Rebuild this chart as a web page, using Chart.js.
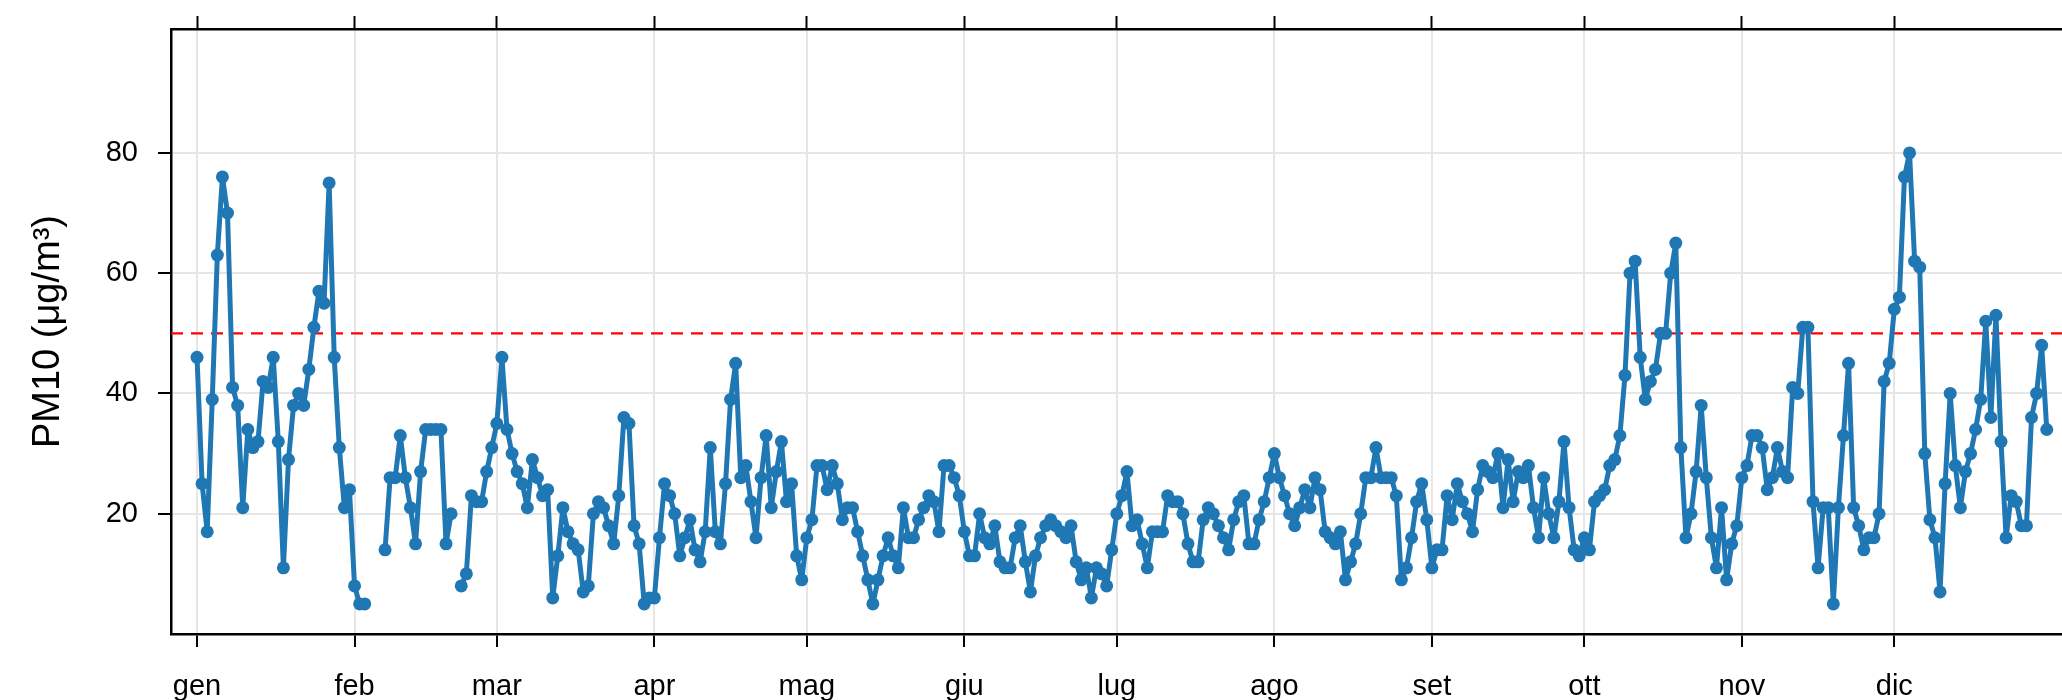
<!DOCTYPE html>
<html>
<head>
<meta charset="utf-8">
<script src="https://cdn.jsdelivr.net/npm/chart.js@4.4.1/dist/chart.umd.min.js"></script>
<style>
html,body{margin:0;padding:0;background:#fff;}
#wrap{width:2062px;height:700px;position:relative;}
</style>
</head>
<body>
<div id="wrap"><canvas id="c" width="2062" height="700"></canvas></div>
<script>
// Month labels and first day (day-of-year index) of each month
const months = ['gen','feb','mar','apr','mag','giu','lug','ago','set','ott','nov','dic'];
const monthStart = [0,31,59,90,120,151,181,212,243,273,304,334];
const yTicks = [20,40,60,80];
const LIMIT = 50;

// Daily PM10 values (µg/m³), one array per month; null = missing day
const gen = [46,25,17,39,63,76,70,41,38,21,34,31,32,42,41,46,32,11,29,38,40,38,44,51,57,55,75,46,31,21,24];
const feb = [8,5,5,null,null,null,14,26,26,33,26,21,15,27,34,34,34,34,15,20,null,8,10,23,22,22,27,31];
const mar = [35,46,34,30,27,25,21,29,26,23,24,6,13,21,17,15,14,7,8,20,22,21,18,15,23,36,35,18,15,5,6];
const apr = [6,16,25,23,20,13,16,19,14,12,17,31,17,15,25,39,45,26,28,22,16,26,33,21,27,32,22,25,13,9];
const mag = [16,19,28,28,24,28,25,19,21,21,17,13,9,5,9,13,16,13,11,21,16,16,19,21,23,22,17,28,28,26,23];
const giu = [17,13,13,20,16,15,18,12,11,11,16,18,12,7,13,16,18,19,18,17,16,18,12,9,11,6,11,10,8,14];
const lug = [20,23,27,18,19,15,11,17,17,17,23,22,22,20,15,12,12,19,21,20,18,16,14,19,22,23,15,15,19,22,26];
const ago = [30,26,23,20,18,21,24,21,26,24,17,16,15,17,9,12,15,20,26,26,31,26,26,26,23,9,11,16,22,25,19];
const set = [11,14,14,23,19,25,22,20,17,24,28,27,26,30,21,29,22,27,26,28,21,16,26,20,16,22,32,21,14,13];
const ott = [16,14,22,23,24,28,29,33,43,60,62,46,39,42,44,50,50,60,65,31,16,20,27,38,26,16,11,21,9,15,18];
const nov = [26,28,33,33,31,24,26,31,27,26,41,40,51,51,22,11,21,21,5,21,33,45,21,18,14,16,16,20,42,45];
const dic = [54,56,76,80,62,61,30,19,16,7,25,40,28,21,27,30,34,39,52,36,53,32,16,23,22,18,18,36,40,48,34];

const monthly = [gen,feb,mar,apr,mag,giu,lug,ago,set,ott,nov,dic];
const points = [];
monthly.forEach((arr, m) => arr.forEach((v, i) => points.push({x: monthStart[m] + i, y: v})));

const X_MIN = -5.12, X_MAX = 367.0;
const Y_MIN = 0, Y_MAX = 100.6;
const FONT = "'Liberation Sans', Arial, Helvetica, sans-serif";
const monthTicks = s => { s.ticks = monthStart.map(v => ({value: v})); };

new Chart(document.getElementById('c'), {
  type: 'line',
  data: {
    datasets: [
      {
        data: points,
        borderColor: '#1f77b4',
        backgroundColor: '#1f77b4',
        borderWidth: 5,
        borderJoinStyle: 'round',
        borderCapStyle: 'round',
        pointRadius: 6.5,
        pointBorderWidth: 0,
        pointBackgroundColor: '#1f77b4',
        spanGaps: false,
        tension: 0,
        order: 1
      },
      {
        data: [{x: X_MIN, y: LIMIT}, {x: X_MAX, y: LIMIT}],
        borderColor: '#ff0000',
        borderWidth: 2.2,
        borderDash: [12, 8],
        pointRadius: 0,
        order: 2
      }
    ]
  },
  options: {
    responsive: false,
    animation: false,
    devicePixelRatio: 1,
    layout: {padding: 0, autoPadding: false},
    plugins: {legend: {display: false}, tooltip: {enabled: false}},
    scales: {
      x: {
        type: 'linear',
        position: 'bottom',
        min: X_MIN, max: X_MAX,
        afterBuildTicks: monthTicks,
        afterFit: s => { s.height = 66; },
        grid: {color: '#e6e6e6', lineWidth: 2, tickColor: '#000', tickLength: 13, tickWidth: 2},
        border: {color: '#000', width: 2.5},
        ticks: {
          autoSkip: false, maxRotation: 0, padding: 23,
          color: '#000',
          font: {family: FONT, size: 29},
          callback: v => months[monthStart.indexOf(v)]
        }
      },
      x2: {
        type: 'linear',
        position: 'top',
        min: X_MIN, max: X_MAX,
        afterBuildTicks: monthTicks,
        afterFit: s => { s.height = 29; },
        grid: {drawOnChartArea: false, tickColor: '#000', tickLength: 13, tickWidth: 2},
        border: {color: '#000', width: 2.5},
        ticks: {display: false}
      },
      y: {
        type: 'linear',
        position: 'left',
        min: Y_MIN, max: Y_MAX,
        afterBuildTicks: s => { s.ticks = yTicks.map(v => ({value: v})); },
        afterFit: s => { s.width = 171; s.paddingTop = 0; s.paddingBottom = 0; },
        grid: {color: '#e6e6e6', lineWidth: 2, tickColor: '#000', tickLength: 13, tickWidth: 2},
        border: {color: '#000', width: 2.5},
        ticks: {color: '#000', padding: 20, font: {family: FONT, size: 29}},
        title: {
          display: true,
          text: 'PM10 (μg/m³)',
          color: '#000',
          font: {family: FONT, size: 38},
          padding: {top: 26, bottom: 0}
        }
      }
    }
  }
});
</script>
</body>
</html>
